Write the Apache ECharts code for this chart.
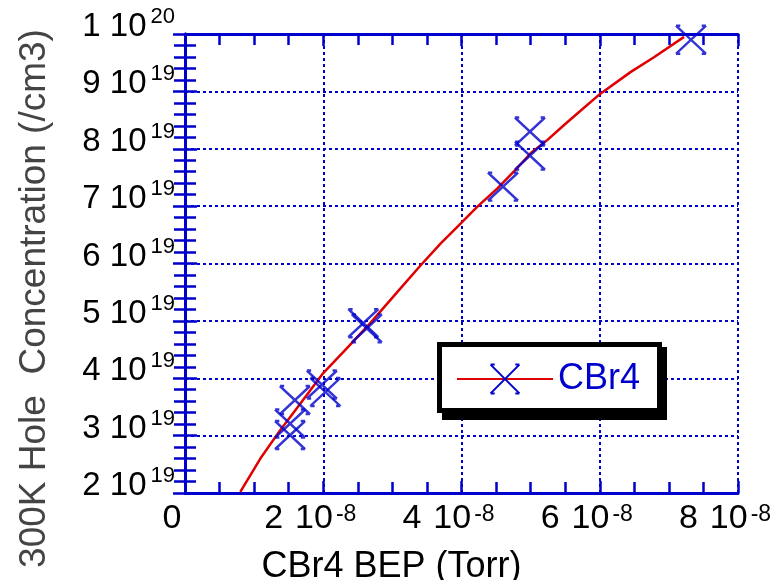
<!DOCTYPE html>
<html>
<head>
<meta charset="utf-8">
<script src="https://cdn.jsdelivr.net/npm/echarts@6/dist/echarts.min.js"></script>
<style>
  html, body { margin: 0; padding: 0; background: #fff; }
  #main { width: 778px; height: 580px; }
</style>
</head>
<body>
<div id="main"></div>
<script>
// x in units of 1e-8 Torr, y in units of 1e19 /cm3
const fitBep = [0.80, 0.99, 1.09, 1.38, 1.67, 2.00, 2.34, 2.68, 3.07, 3.41, 3.70, 3.94, 4.23, 4.52, 4.78, 5.00, 5.24, 5.48, 5.73, 6.01, 6.45, 6.79, 7.22]
const fitHole = [2.02, 2.40, 2.60, 3.10, 3.56, 4.09, 4.52, 4.96, 5.50, 5.97, 6.35, 6.64, 6.99, 7.31, 7.63, 7.92, 8.15, 8.41, 8.67, 8.96, 9.34, 9.60, 9.95]
const measBep = [1.52, 1.52, 1.59, 1.98, 2.03, 2.58, 2.63, 4.60, 4.99, 4.99, 7.32]
const measHole = [3.01, 3.21, 3.62, 3.89, 3.76, 4.96, 4.87, 7.34, 8.30, 7.88, 9.90]
const xTicks = [0, 2, 4, 6, 8]
const yTicks = [2, 3, 4, 5, 6, 7, 8, 9, 10]

const blue = '#0000cc'
const red = '#e00000'
const crossPath = 'path://M0,0 L28,28 M28,0 L0,28 M0,0 L4,0 M24,0 L28,0 M0,28 L4,28 M24,28 L28,28'

const axisLine = { lineStyle: { color: blue, width: 3 } }
const tick = { inside: true, length: 12, lineStyle: { color: blue, width: 2.5 } }
const dotted = { show: true, lineStyle: { color: blue, width: 2, type: [3, 3] } }

let myChart = echarts.init(document.getElementById('main'))
myChart.setOption({
  animation: false,
  textStyle: { fontFamily: 'Liberation Sans, Arial, sans-serif' },
  grid: { left: 185, right: 40, top: 34, bottom: 87, containLabel: false, outerBoundsMode: 'none' },
  xAxis: [
    {
      type: 'value', min: 0, max: 8, interval: 2,
      name: 'CBr4 BEP (Torr)', nameLocation: 'middle', nameGap: 56,
      nameTextStyle: { fontSize: 36, color: '#000', padding: [0, 140, 0, 0] },
      axisLine: axisLine,
      axisTick: tick,
      minorTick: { show: true, splitNumber: 4, length: 11, lineStyle: { color: blue, width: 2.5 } },
      splitLine: dotted,
      axisLabel: {
        margin: 9,
        padding: [0, 26, 0, 0],
        formatter: v => xTicks.indexOf(v) === 0 ? '{b|0}' : '{b|' + v + '}{t|10}{s|-8}',
        rich: {
          b: { fontSize: 34, color: '#000', lineHeight: 34, verticalAlign: 'bottom' },
          t: { fontSize: 34, color: '#000', lineHeight: 34, verticalAlign: 'bottom', padding: [0, 0, 0, 12] },
          s: { fontSize: 23, color: '#000', lineHeight: 23, padding: [0, 0, 8, 3] }
        }
      }
    },
    {
      type: 'value', min: 0, max: 8, interval: 2, position: 'top',
      axisLine: axisLine,
      axisTick: tick,
      minorTick: { show: true, splitNumber: 4, length: 11, lineStyle: { color: blue, width: 2.5 } },
      splitLine: { show: false },
      axisLabel: { show: false }
    }
  ],
  yAxis: [
    {
      type: 'value', min: 2, max: 10, interval: 1,
      name: '300K Hole  Concentration (/cm3)', nameLocation: 'middle', nameGap: 132, nameRotate: 90,
      nameTextStyle: { fontSize: 37, color: '#444', padding: [0, 70, 0, 0] },
      axisLine: axisLine,
      axisTick: tick,
      minorTick: { show: true, splitNumber: 5, length: 11, lineStyle: { color: blue, width: 2.5 } },
      splitLine: dotted,
      axisLabel: {
        margin: 10,
        padding: [0, 0, 14, 0],
        formatter: v => v === yTicks[yTicks.length - 1] ? '{b|1 10}{s|20}' : '{b|' + v + ' 10}{s|19}',
        rich: {
          b: { fontSize: 33, color: '#000', lineHeight: 33, verticalAlign: 'bottom' },
          s: { fontSize: 22, color: '#000', lineHeight: 22, padding: [0, 0, 20, 4] }
        }
      }
    },
    {
      type: 'value', min: 2, max: 10, interval: 1, position: 'right',
      axisLine: axisLine,
      axisTick: tick,
      minorTick: { show: true, splitNumber: 5, length: 11, lineStyle: { color: blue, width: 2.5 } },
      splitLine: { show: false },
      axisLabel: { show: false }
    }
  ],
  legend: {
    data: ['CBr4'],
    left: 456, top: 361, z: 20, padding: 0,
    selectedMode: false,
    itemWidth: 96, itemHeight: 36, itemGap: 0,
    textStyle: { color: blue, fontSize: 36 }
  },
  graphic: [
    { type: 'rect', z: 15, shape: { x: 442, y: 347, width: 225, height: 73 }, style: { fill: '#000' } },
    { type: 'rect', z: 16, shape: { x: 439.5, y: 344.5, width: 220, height: 66 }, style: { fill: '#fff', stroke: '#000', lineWidth: 5 } }
  ],
  series: [
    {
      name: 'CBr4',
      type: 'line',
      data: fitBep.map((x, i) => [x, fitHole[i]]),
      showSymbol: false,
      symbol: crossPath,
      symbolSize: [30, 28],
      lineStyle: { color: red, width: 2.5 },
      itemStyle: { color: blue, borderColor: blue, borderWidth: 2.5 },
      z: 3
    },
    {
      name: 'measured',
      type: 'scatter',
      data: measBep.map((x, i) => [x, measHole[i]]),
      symbol: crossPath,
      symbolSize: [30, 28],
      itemStyle: { color: blue, borderColor: blue, borderWidth: 2.5 },
      z: 4
    }
  ]
})
</script>
</body>
</html>
